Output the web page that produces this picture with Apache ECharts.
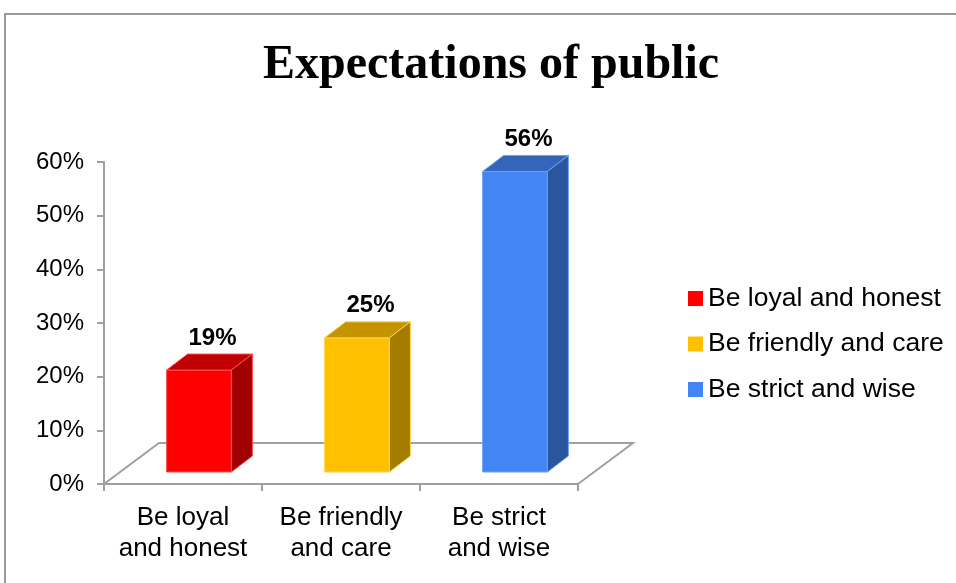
<!DOCTYPE html>
<html>
<head>
<meta charset="utf-8">
<script src="https://cdn.jsdelivr.net/npm/echarts@6/dist/echarts.min.js"></script>
<style>
  html, body { margin: 0; padding: 0; background: #fff; }
  #chart { width: 956px; height: 583px; }
</style>
</head>
<body>
<div id="chart"></div>
<script>
  // data
  var categories = ['Be loyal\nand honest', 'Be friendly\nand care', 'Be strict\nand wise'];
  var seriesNames = ['Be loyal and honest', 'Be friendly and care', 'Be strict and wise'];
  var values = [0.19, 0.25, 0.56];

  // front / top / side / edge colours per bar
  var faceColors = [
    ['#FF0000', '#C00000', '#A00000', '#FF4D4D'],
    ['#FFC000', '#C49300', '#A37C00', '#FFD24D'],
    ['#4485F4', '#3366BB', '#2B559E', '#6FA0F6']
  ];

  var font = '"Liberation Sans", Arial, sans-serif';
  var gray = '#A0A0A0';

  // fake 3d offsets (px)
  var shiftX = 16, shiftY = -12;   // bar front sits this far into the floor
  var depthX = 21, depthY = -16;   // bar depth
  var floorX = 55, floorY = -41;   // floor depth

  var chart = echarts.init(document.getElementById('chart'));

  function renderFloor(params, api) {
    var cs = params.coordSys;
    var fl = [cs.x, cs.y + cs.height];
    var fr = [cs.x + cs.width, cs.y + cs.height];
    return {
      type: 'polyline',
      shape: {
        points: [fl, [fl[0] + floorX, fl[1] + floorY], [fr[0] + floorX, fr[1] + floorY], fr]
      },
      style: { stroke: gray, lineWidth: 2, fill: null },
      silent: true
    };
  }

  function makeBarRenderer(idx) {
    var c = faceColors[idx];
    return function (params, api) {
      var ci = api.value(0);
      var v = api.value(1);
      var base = api.coord([ci, 0]);
      var top = api.coord([ci, v]);
      var band = api.size([1, 0])[0];
      var w = band * 0.41;
      var x0 = base[0] - w / 2 + shiftX;
      var x1 = x0 + w;
      var yb = base[1] + shiftY;
      var yt = top[1] + shiftY;
      return {
        type: 'group',
        children: [
          {
            type: 'rect',
            shape: { x: x0, y: yt, width: w, height: yb - yt },
            style: { fill: c[0], stroke: c[3], lineWidth: 1 }
          },
          {
            type: 'polygon',
            shape: { points: [[x0, yt], [x1, yt], [x1 + depthX, yt + depthY], [x0 + depthX, yt + depthY]] },
            style: { fill: c[1], stroke: c[3], lineWidth: 1 }
          },
          {
            type: 'polygon',
            shape: { points: [[x1, yt], [x1 + depthX, yt + depthY], [x1 + depthX, yb + depthY], [x1, yb]] },
            style: { fill: c[2], stroke: c[3], lineWidth: 1 }
          },
          {
            type: 'text',
            style: {
              text: Math.round(v * 100) + '%',
              x: (x0 + x1 + depthX) / 2 + 3,
              y: yt + depthY - 16,
              align: 'center',
              verticalAlign: 'middle',
              font: 'bold 24px ' + font,
              fill: '#000'
            }
          }
        ]
      };
    };
  }

  var series = [{
    type: 'custom',
    name: 'floor',
    renderItem: renderFloor,
    data: [[0, 0]],
    silent: true,
    z: 1
  }];
  for (var i = 0; i < values.length; i++) {
    series.push({
      type: 'custom',
      name: seriesNames[i],
      renderItem: makeBarRenderer(i),
      itemStyle: { color: faceColors[i][0] },
      data: [[i, values[i]]],
      z: 3
    });
  }

  var option = {
    animation: false,
    backgroundColor: '#fff',
    graphic: [{
      type: 'rect',
      silent: true,
      shape: { x: 5, y: 14, width: 1200, height: 800 },
      style: { fill: null, stroke: '#999', lineWidth: 2 }
    }],
    title: {
      text: 'Expectations of public',
      left: 263,
      top: 42,
      padding: 0,
      textStyle: {
        fontFamily: '"Liberation Serif", "Times New Roman", serif',
        fontWeight: 'bold',
        fontSize: 48,
        color: '#000'
      }
    },
    legend: {
      data: seriesNames,
      orient: 'vertical',
      left: 688,
      top: 285,
      padding: 0,
      icon: 'rect',
      itemWidth: 15,
      itemHeight: 15,
      itemGap: 18.5,
      textStyle: { fontFamily: font, fontSize: 26.5, color: '#000', lineHeight: 26 }
    },
    grid: { left: 104, top: 162, width: 474, height: 322 },
    xAxis: {
      type: 'category',
      data: categories,
      axisLine: { lineStyle: { color: gray, width: 2 } },
      axisTick: { show: true, length: 7, lineStyle: { color: gray, width: 2 } },
      axisLabel: { margin: 18, fontFamily: font, fontSize: 26, lineHeight: 31, color: '#000', interval: 0 }
    },
    yAxis: {
      type: 'value',
      min: 0,
      max: 0.6,
      interval: 0.1,
      splitLine: { show: false },
      axisLine: { show: true, lineStyle: { color: gray, width: 2 } },
      axisTick: { show: true, length: 7, lineStyle: { color: gray, width: 2 } },
      axisLabel: {
        margin: 20,
        fontFamily: font,
        fontSize: 24,
        color: '#000',
        formatter: function (v) { return Math.round(v * 100) + '%'; }
      }
    },
    series: series
  };

  chart.setOption(option);
</script>
</body>
</html>
